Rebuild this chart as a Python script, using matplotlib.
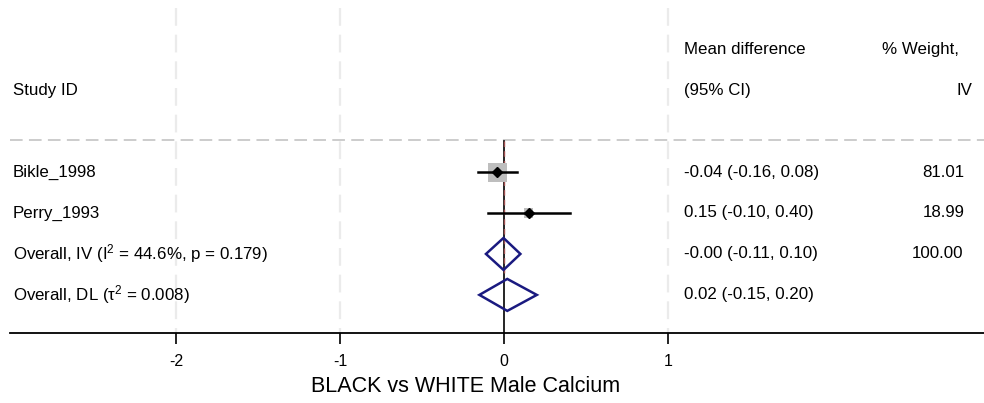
import matplotlib.pyplot as plt
from matplotlib.patches import Polygon, Rectangle

plt.rcParams["font.family"] = ["Liberation Sans", "DejaVu Sans"]
plt.rcParams["mathtext.fontset"] = "custom"
plt.rcParams["mathtext.rm"] = "Liberation Sans"
plt.rcParams["mathtext.it"] = "Liberation Sans:italic"

# Дані
studies = ["Bikle_1998", "Perry_1993"]
effects = [-0.04, 0.15]
lower = [-0.16, -0.10]
upper = [0.08, 0.40]
weights = [81.01, 18.99]
ci_labels = ["-0.04 (-0.16, 0.08)", "0.15 (-0.10, 0.40)"]
weight_labels = ["81.01", "18.99"]

pooled_names = ["Overall, IV (I$^2$ = 44.6%, p = 0.179)", "Overall, DL (τ$^2$ = 0.008)"]
pooled_effects = [-0.003, 0.02]
pooled_lower = [-0.11, -0.15]
pooled_upper = [0.10, 0.20]
pooled_ci_labels = ["-0.00 (-0.11, 0.10)", "0.02 (-0.15, 0.20)"]
pooled_weight_labels = ["100.00", ""]

xticks = [-2, -1, 0, 1]
title = "BLACK vs WHITE Male Calcium"

fig = plt.figure(figsize=(9.84, 4.03), dpi=100)
ax = fig.add_axes([10 / 984, 70 / 403, 974 / 984, 333 / 403])
ax.set_xlim(-494 / 164, 480 / 164)
ax.set_ylim(4.93, -3.2)

fs = 12.2
col_ci = 1.098
col_w = 2.81

# Сітка
for t in [-2, -1, 1]:
    ax.plot([t, t], [-3.0, 4.93], color="#ebebeb", lw=1.6, ls=(0, (8, 4)), zorder=0)
ax.axhline(0.22, color="#c8c8c8", lw=1.3, ls=(0, (7, 3.5)), zorder=1)
ax.plot([0, 0], [0.24, 4.93], color="black", lw=1.2, zorder=2)
ax.plot([pooled_effects[0]] * 2, [0.24, 3.5], color="#a05050", lw=1.0,
        ls=(0, (4, 3)), zorder=2)

# Заголовки колонок
ax.text(-2.994, -1, "Study ID", fontsize=fs, va="center", ha="left")
ax.text(col_ci, -2, "Mean difference", fontsize=fs, va="center", ha="left")
ax.text(col_ci, -1, "(95% CI)", fontsize=fs, va="center", ha="left")
ax.text(2.305, -2, "% Weight,", fontsize=fs, va="center", ha="left")
ax.text(2.854, -1, "IV", fontsize=fs, va="center", ha="right")

# Дослідження
max_box = 19 / 164
for i, name in enumerate(studies):
    y = i + 1
    side = max_box * (weights[i] / max(weights)) ** 0.5
    side_y = side * 164 / 41
    ax.add_patch(Rectangle((effects[i] - side / 2, y - side_y / 2), side, side_y,
                           facecolor="#bebebe", edgecolor="none", zorder=3))
    ax.plot([lower[i], upper[i]], [y, y], color="black", lw=1.8, zorder=4)
    ax.plot(effects[i], y, marker="D", color="black", ms=5.5, zorder=5)
    ax.text(-2.994, y, name, fontsize=fs, va="center", ha="left")
    ax.text(col_ci, y, ci_labels[i], fontsize=fs, va="center", ha="left")
    ax.text(col_w, y, weight_labels[i], fontsize=fs, va="center", ha="right")

# Зведені оцінки
for j, name in enumerate(pooled_names):
    y = len(studies) + j + 1
    h = 16 / 41
    pts = [(pooled_lower[j], y), (pooled_effects[j], y - h),
           (pooled_upper[j], y), (pooled_effects[j], y + h)]
    ax.add_patch(Polygon(pts, closed=True, fill=False, edgecolor="#1a1a80",
                         lw=1.8, zorder=4))
    ax.text(-2.994, y, name, fontsize=fs, va="center", ha="left")
    ax.text(col_ci, y, pooled_ci_labels[j], fontsize=fs, va="center", ha="left")
    ax.text(col_w - 0.012, y, pooled_weight_labels[j], fontsize=fs, va="center", ha="right")

for s in ["top", "left", "right"]:
    ax.spines[s].set_visible(False)
ax.spines["bottom"].set_linewidth(1.3)
ax.set_yticks([])
ax.set_xticks(xticks)
ax.set_xticklabels([str(t) for t in xticks], fontsize=11.5)
ax.tick_params(axis="x", length=8, width=1.2, pad=7)

fig.text(466 / 984, 17 / 403, title, fontsize=15.5, ha="center", va="center")

fig.savefig("out.png", dpi=100)
